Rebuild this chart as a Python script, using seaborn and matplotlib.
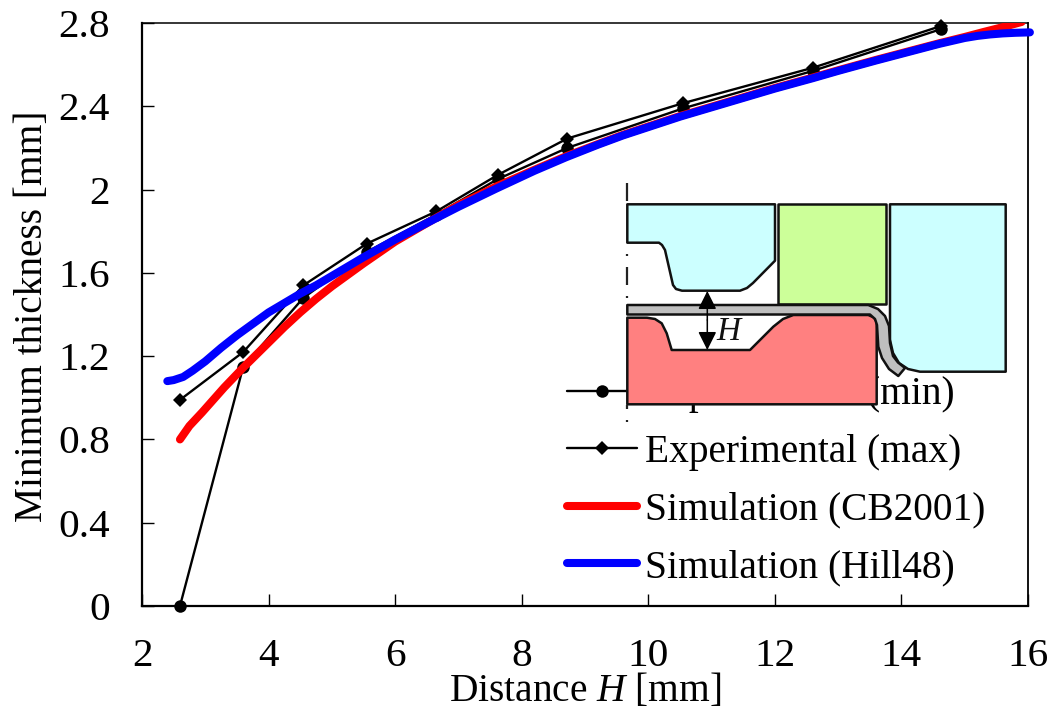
import numpy as np
import pandas as pd
import matplotlib
matplotlib.use("Agg")
import matplotlib.pyplot as plt
from matplotlib.patches import Polygon, Rectangle, FancyArrowPatch
import seaborn as sns

sns.set_theme(style="ticks")
plt.rcParams["font.family"] = ["Liberation Serif", "DejaVu Serif"]
plt.rcParams["mathtext.fontset"] = "custom"
plt.rcParams["mathtext.it"] = "Liberation Serif:italic"
plt.rcParams["mathtext.rm"] = "Liberation Serif"

exp_h = [2.6, 3.6, 4.55, 5.55, 6.65, 7.62, 8.72, 10.55, 12.6, 14.62]
exp_min = [0.0, 1.15, 1.48, 1.70, 1.88, 2.05, 2.20, 2.39, 2.57, 2.77]
exp_max = [0.99, 1.22, 1.54, 1.74, 1.895, 2.07, 2.245, 2.415, 2.585, 2.785]
cb_h = [2.6, 2.75, 2.95, 3.3, 3.6, 3.8, 4.0, 4.25, 4.5, 4.75, 5.0, 5.25, 5.5, 6.0, 6.65, 7.0, 7.6, 8.2, 8.7,
        9.2, 9.6, 10.0, 10.5, 11.0, 11.5, 12.0, 12.6, 13.0, 13.6, 14.1, 14.6, 15.0, 15.3, 15.6, 15.9]
cb_t = [0.80, 0.865, 0.93, 1.05, 1.145, 1.205, 1.265, 1.34, 1.41, 1.475, 1.535, 1.59, 1.645, 1.75, 1.865, 1.925, 2.015, 2.095, 2.16,
        2.218, 2.263, 2.303, 2.353, 2.398, 2.443, 2.488, 2.538, 2.573, 2.623, 2.663, 2.703, 2.733, 2.757, 2.78, 2.805]
hill_h = [2.4, 2.5, 2.65, 2.8, 3.0, 3.25, 3.5, 3.75, 4.0, 4.25, 4.5, 4.75, 5.0, 5.25, 5.5, 6.0, 6.6, 7.0, 7.6, 8.2, 8.7,
          9.2, 9.6, 10.0, 10.5, 11.0, 11.5, 12.0, 12.6, 13.0, 13.6, 14.1, 14.6, 15.0, 15.2, 15.4, 15.6, 15.8, 16.03]
hill_t = [1.08, 1.085, 1.10, 1.13, 1.175, 1.24, 1.30, 1.355, 1.41, 1.455, 1.50, 1.54, 1.585, 1.63, 1.675, 1.76, 1.855, 1.917, 2.005, 2.09, 2.155,
          2.215, 2.26, 2.30, 2.35, 2.395, 2.44, 2.485, 2.535, 2.57, 2.62, 2.66, 2.70, 2.728, 2.738, 2.745, 2.75, 2.753, 2.755]
x_ticks = [2, 4, 6, 8, 10, 12, 14, 16]
y_ticks = [0, 0.4, 0.8, 1.2, 1.6, 2, 2.4, 2.8]
y_labels = ["0", "0.4", "0.8", "1.2", "1.6", "2", "2.4", "2.8"]

W, H = 1053, 708
fig = plt.figure(figsize=(W / 100, H / 100), dpi=100)
ax = fig.add_axes([142 / W, 1 - 606 / H, (1028 - 142) / W, (606 - 23) / H])

fs = 28.4
sns.lineplot(x=exp_h, y=exp_min, ax=ax, color="black", lw=1.7, marker="o", ms=9, mew=0,
             label="Experimental (min)", clip_on=False, zorder=3, errorbar=None, sort=False)
sns.lineplot(x=exp_h, y=exp_max, ax=ax, color="black", lw=1.7, marker="D", ms=7, mew=0,
             label="Experimental (max)", clip_on=False, zorder=3, errorbar=None, sort=False)
sns.lineplot(x=cb_h, y=cb_t, ax=ax, color="#ff0000", lw=5.8, label="Simulation (CB2001)",
             clip_on=True, zorder=4, errorbar=None, sort=False, solid_capstyle="round")
sns.lineplot(x=hill_h, y=hill_t, ax=ax, color="#0000ff", lw=5.8, label="Simulation (Hill48)",
             clip_on=False, zorder=5, errorbar=None, sort=False, solid_capstyle="round")

ax.set_xlim(2, 16)
ax.set_ylim(0, 2.8)
ax.set_xticks(x_ticks)
ax.set_yticks(y_ticks)
ax.set_yticklabels(y_labels)
ax.tick_params(axis="both", direction="in", length=8.5, width=1.0, labelsize=29.7, colors="black", pad=23)
for s in ax.spines.values():
    s.set_visible(True)
    s.set_color("black")
ax.spines["left"].set_linewidth(1.6)
ax.spines["bottom"].set_linewidth(1.6)
ax.spines["right"].set_linewidth(1.3)
ax.spines["top"].set_linewidth(1.1)
ax.set_xlabel("Distance $H$ [mm]", fontsize=fs, color="black")
ax.set_ylabel("Minimum thickness [mm]", fontsize=fs, color="black")
ax.xaxis.set_label_coords((585 - 142) / (1028 - 142), -(691 - 606) / (606 - 23), transform=ax.transAxes)
ax.xaxis.label.set_va("center")
ax.yaxis.set_label_coords(-(142 - 33) / (1028 - 142), (606 - 316) / (606 - 23), transform=ax.transAxes)
ax.yaxis.label.set_va("center")

leg = ax.legend(loc="lower left", bbox_to_anchor=(567 / W, 1 - 586 / H), bbox_transform=fig.transFigure,
                frameon=False, fontsize=fs, handlelength=1.775, handletextpad=0.2,
                labelspacing=0.52, borderpad=0, borderaxespad=0)
for t in leg.get_texts():
    t.set_color("black")

# Process sketch overlaid on the plot, in pixel coordinates
ov = fig.add_axes([0, 0, 1, 1], zorder=10)
ov.set_xlim(0, W)
ov.set_ylim(H, 0)
ov.axis("off")
ov.patch.set_alpha(0)

edge = dict(edgecolor="#111111", linewidth=1.8, joinstyle="round")
ov.add_patch(Polygon([(627.3, 204.3), (775, 204.3), (775, 260.7), (753, 283), (747, 288), (740, 290.7),
                      (682, 290.7), (676, 289), (673, 285), (665, 250), (662, 245), (659, 242.7), (627.3, 242.7)],
                     facecolor="#ccffff", **edge))
ov.add_patch(Rectangle((778.3, 204.3), 107.7, 100, facecolor="#ccff99", **edge))
ov.add_patch(Polygon([(890, 204.3), (1005.7, 204.3), (1005.7, 371.7), (920, 371.7), (908, 369), (899, 363),
                      (893, 353), (890, 340)], facecolor="#ccffff", **edge))
ov.add_patch(Polygon([(627.3, 317.7), (647, 317.7), (655, 319), (661.7, 323.3), (666.7, 333.3), (671.7, 350),
                      (750, 350), (773.3, 326.7), (783, 319), (793.3, 315), (868.3, 315), (874, 317.5),
                      (876.7, 322), (876.7, 404.3), (627.3, 404.3)], facecolor="#ff8080", **edge))
ov.add_patch(Polygon([(627.3, 305), (868.3, 305), (878, 309), (885, 316), (889, 326), (890, 343), (893, 356),
                      (898, 362.5), (905, 368), (898.3, 376), (889, 369), (882, 358), (878.3, 346.7),
                      (877, 325), (875, 319), (870, 314.5), (627.3, 314.5)], facecolor="#bfbfbf", **edge))

for y0, y1 in [(183, 201), (267, 285), (405, 409)]:
    ov.plot([627, 627], [y0, y1], color="#222222", lw=1.6, solid_capstyle="butt")
for y0 in [254, 296, 420]:
    ov.plot([627, 627], [y0, y0 + 2], color="#222222", lw=1.6, solid_capstyle="butt")

ov.add_patch(FancyArrowPatch((707.3, 320), (707.3, 291), arrowstyle="-|>,head_length=7,head_width=3.5",
                             color="black", lw=1.1, shrinkA=0, shrinkB=0, mutation_scale=1.6))
ov.add_patch(FancyArrowPatch((707.3, 320), (707.3, 350), arrowstyle="-|>,head_length=7,head_width=3.5",
                             color="black", lw=1.1, shrinkA=0, shrinkB=0, mutation_scale=1.6))
ov.text(730, 332, "$H$", fontsize=24, ha="center", va="center", color="#111111")

fig.savefig("out.png", dpi=100)
